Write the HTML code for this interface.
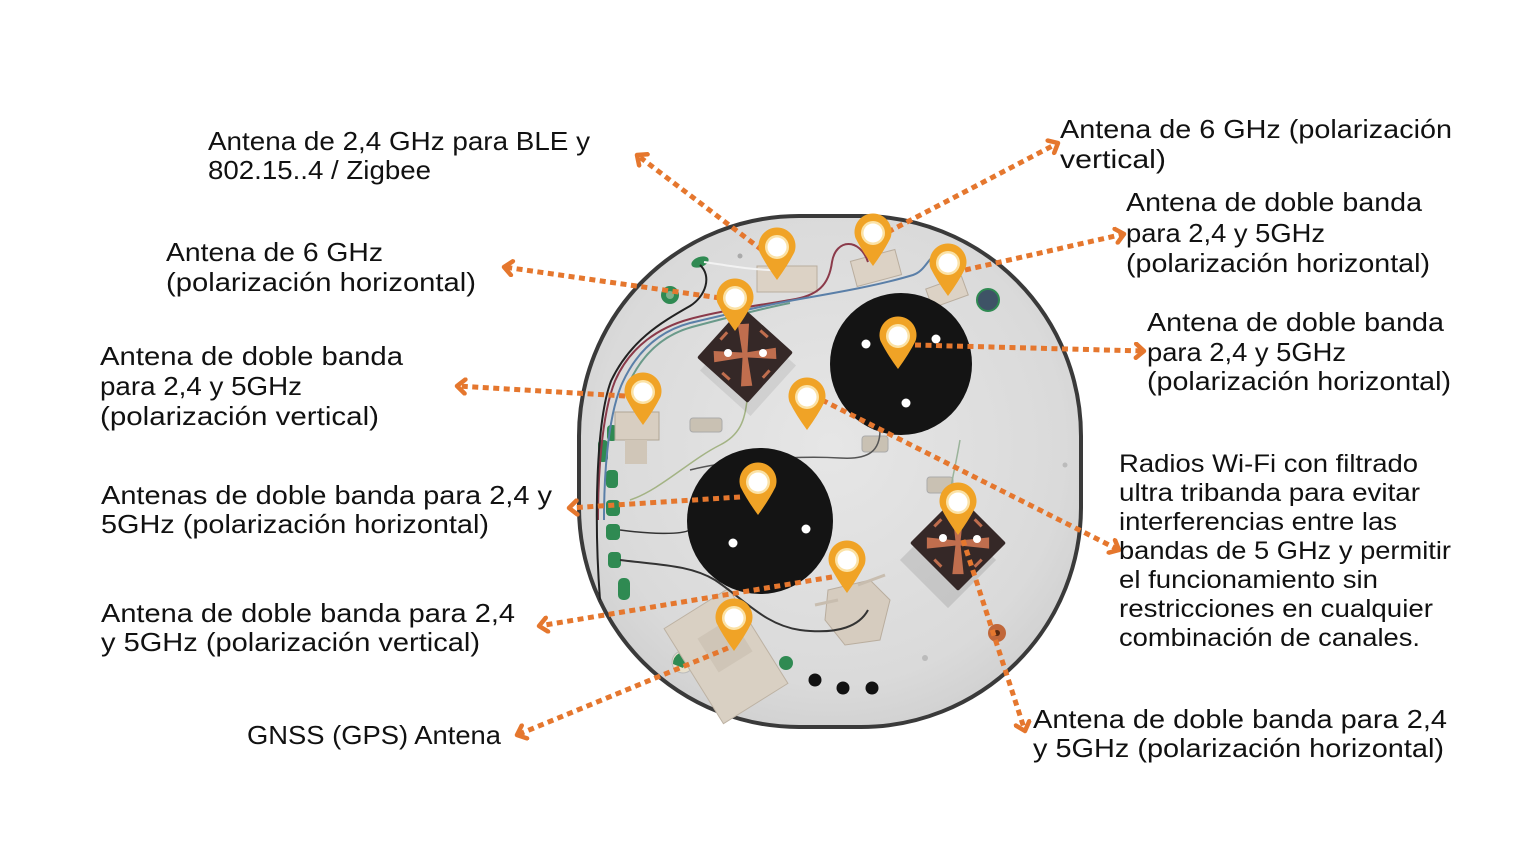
<!DOCTYPE html>
<html>
<head>
<meta charset="utf-8">
<style>
  html,body{margin:0;padding:0;background:#fff;}
  body{width:1533px;height:862px;overflow:hidden;}
  svg{display:block;}
  .t{font-family:"Liberation Sans","DejaVu Sans",sans-serif;font-size:26px;fill:#111;}
  .s{font-family:"Liberation Sans","DejaVu Sans",sans-serif;font-size:25px;fill:#111;}
  .dl{stroke:#e5772e;stroke-width:5;stroke-dasharray:6 4.5;fill:none;}
</style>
</head>
<body>
<svg width="1533" height="862" viewBox="0 0 1533 862" xmlns="http://www.w3.org/2000/svg">
  <defs>
    <radialGradient id="plate" cx="50%" cy="45%" r="62%">
      <stop offset="0%" stop-color="#e6e6e6"/>
      <stop offset="75%" stop-color="#dadada"/>
      <stop offset="100%" stop-color="#cdcdcd"/>
    </radialGradient>
    <marker id="ch" viewBox="0 0 14 18" refX="11" refY="9" markerWidth="14" markerHeight="18" markerUnits="userSpaceOnUse" orient="auto">
      <path d="M3,2 L11,9 L3,16" fill="none" stroke="#e5772e" stroke-width="4.5" stroke-linecap="round" stroke-linejoin="round"/>
    </marker>
    <g id="pin">
      <path d="M-17.5,5 A18.5,18.5 0 1 1 17.5,5 Q11,18 0,33 Q-11,18 -17.5,5Z" fill="#f0a326"/>
      <circle r="12" fill="#fbe2a6"/>
      <circle r="9.5" fill="#ffffff"/>
    </g>
    <g id="diam">
      <rect x="-34" y="-34" width="68" height="68" fill="#352827" rx="2"/>
      <path d="M0,-3 L26,18 L18,26 L-3,0Z" fill="#c06e4e"/>
      <path d="M0,3 L-26,-18 L-18,-26 L3,0Z" fill="#c06e4e"/>
      <path d="M3,0 L-18,26 L-26,18 L0,-3Z" fill="#c06e4e"/>
      <path d="M-3,0 L18,-26 L26,-18 L0,3Z" fill="#c06e4e"/>
      <rect x="-30" y="-5" width="3" height="10" fill="#c06e4e"/>
      <rect x="27" y="-5" width="3" height="10" fill="#c06e4e"/>
      <rect x="-5" y="-30" width="10" height="3" fill="#c06e4e"/>
      <rect x="-5" y="27" width="10" height="3" fill="#c06e4e"/>
    </g>
  </defs>

  <!-- device body -->
  <rect x="579" y="216" width="502" height="511" rx="220" ry="220" fill="url(#plate)" stroke="#3a3a3a" stroke-width="4"/>

  <!-- small components -->
  <circle cx="670" cy="295" r="9" fill="#2f8a52"/>
  <circle cx="670" cy="295" r="4" fill="#7fb08a"/>
  <ellipse cx="700" cy="262" rx="9" ry="5" fill="#2f8a52" transform="rotate(-20 700 262)"/>
  <circle cx="940" cy="268" r="8" fill="#2f8a52"/>
  <circle cx="988" cy="300" r="11" fill="#3e5366" stroke="#2f8a52" stroke-width="2"/>
  <circle cx="997" cy="633" r="9" fill="#c0673a"/>
  <circle cx="997" cy="633" r="3" fill="#5a2a10"/>
  <circle cx="683" cy="662" r="11" fill="#e8e0cc" stroke="#bbb" stroke-width="1"/>
  <path d="M673,664 A11,11 0 0 1 690,654 L683,668Z" fill="#2f8a52"/>
  <circle cx="786" cy="663" r="7" fill="#2f8a52"/>
  <circle cx="815" cy="680" r="6.5" fill="#111"/>
  <circle cx="843" cy="688" r="6.5" fill="#111"/>
  <circle cx="872" cy="688" r="6.5" fill="#111"/>
  <circle cx="925" cy="658" r="3" fill="#bbb"/>
  <circle cx="1065" cy="465" r="2.5" fill="#bbb"/>
  <circle cx="740" cy="256" r="2.5" fill="#aaa"/>
  <rect x="598" y="440" width="10" height="22" rx="4" fill="#2f8a52"/>
  <rect x="606" y="470" width="12" height="18" rx="4" fill="#2f8a52"/>
  <rect x="606" y="500" width="14" height="16" rx="4" fill="#2f8a52"/>
  <rect x="606" y="524" width="14" height="16" rx="4" fill="#2f8a52"/>
  <rect x="608" y="552" width="13" height="16" rx="4" fill="#2f8a52"/>
  <rect x="618" y="578" width="12" height="22" rx="5" fill="#2f8a52"/>
  <rect x="607" y="425" width="10" height="16" rx="4" fill="#2f8a52"/>

  <!-- beige antenna plates -->
  <rect x="757" y="266" width="60" height="26" fill="#dcd2c5" stroke="#b9ad9e" stroke-width="1"/>
  <rect x="853" y="255" width="46" height="26" fill="#dcd2c5" stroke="#b9ad9e" stroke-width="1" transform="rotate(-15 876 268)"/>
  <rect x="928" y="282" width="38" height="20" fill="#dcd2c5" stroke="#b9ad9e" stroke-width="1" transform="rotate(-20 947 292)"/>
  <rect x="615" y="412" width="44" height="28" fill="#d8cec1" stroke="#b0a595" stroke-width="1"/>
  <rect x="625" y="440" width="22" height="24" fill="#d0c6b8"/>
  <rect x="688" y="600" width="76" height="112" fill="#d9d0c3" stroke="#bdb2a3" stroke-width="1" transform="rotate(-32 726 656)"/>
  <rect x="705" y="625" width="40" height="40" fill="#cfc5b7" transform="rotate(-32 725 645)"/>
  <path d="M828,590 L870,580 L890,600 L880,640 L845,645 L825,620Z" fill="#d6ccbf" stroke="#b9ad9e" stroke-width="1"/>
  <path d="M815,605 L838,600 M858,585 L885,575" stroke="#c8bdaf" stroke-width="3"/>
  <rect x="690" y="418" width="32" height="14" rx="3" fill="#c9c1b3" stroke="#aaa"/>
  <rect x="703" y="494" width="20" height="26" rx="3" fill="#c9c1b3" stroke="#aaa"/>
  <rect x="862" y="436" width="26" height="16" rx="3" fill="#c9c1b3" stroke="#aaa"/>
  <rect x="927" y="477" width="26" height="16" rx="3" fill="#c9c1b3" stroke="#aaa"/>

  <!-- wires -->
  <path d="M868,262 C860,238 836,238 832,262 C829,285 818,296 790,300 C760,305 720,311 690,319 C660,327 630,346 615,381 C601,416 598,480 598,520" stroke="#8b3a4a" stroke-width="2" fill="none"/>
  <path d="M945,252 C928,252 928,270 913,275 C880,285 840,292 800,299 C760,306 720,316 690,323 C660,331 636,351 621,386 C607,421 604,480 604,520" stroke="#5a7fa8" stroke-width="2" fill="none"/>
  <path d="M790,303 C760,309 722,319 692,327 C663,335 640,355 626,390" stroke="#6a9a8a" stroke-width="2" fill="none"/>
  <path d="M700,265 C712,276 706,296 690,306 C660,323 630,341 611,381 C596,421 594,520 600,600" stroke="#222" stroke-width="2" fill="none"/>
  <path d="M704,262 C725,265 750,270 775,270" stroke="#f2f2f2" stroke-width="2" fill="none"/>
  <path d="M747,400 C745,420 740,435 720,445 C690,460 660,490 630,500" stroke="#a3b384" stroke-width="1.5" fill="none"/>
  <path d="M880,430 C880,450 870,460 840,458 C790,455 720,462 690,470" stroke="#555" stroke-width="1.5" fill="none"/>
  <path d="M960,440 C955,470 950,485 950,500" stroke="#9ab39a" stroke-width="1.5" fill="none"/>
  <path d="M620,560 C660,565 690,565 715,580 C745,600 765,625 800,630 C840,635 860,625 868,610" stroke="#333" stroke-width="2" fill="none"/>
  <path d="M620,530 C650,534 680,535 690,530" stroke="#333" stroke-width="1.5" fill="none"/>

  <!-- black disks -->
  <circle cx="901" cy="364" r="71" fill="#141414"/>
  <circle cx="866" cy="344" r="4.5" fill="#fff"/>
  <circle cx="936" cy="339" r="4.5" fill="#fff"/>
  <circle cx="906" cy="403" r="4.5" fill="#fff"/>
  <circle cx="760" cy="521" r="73" fill="#141414"/>
  <circle cx="806" cy="529" r="4.5" fill="#fff"/>
  <circle cx="733" cy="543" r="4.5" fill="#fff"/>

  <!-- diamonds -->
  <rect x="-34" y="-34" width="68" height="68" fill="#000" opacity="0.08" transform="translate(748,368) rotate(42)"/>
  <use href="#diam" transform="translate(745,355) rotate(42)"/>
  <circle cx="728" cy="353" r="4" fill="#fff"/>
  <circle cx="763" cy="353" r="4" fill="#fff"/>
  <rect x="-34" y="-34" width="68" height="68" fill="#000" opacity="0.1" transform="translate(948,560) rotate(45)"/>
  <use href="#diam" transform="translate(958,543) rotate(45)"/>
  <circle cx="943" cy="538" r="4" fill="#fff"/>
  <circle cx="977" cy="539" r="4" fill="#fff"/>

  <!-- dotted connectors -->
  <line class="dl" x1="762" y1="250" x2="637" y2="155" marker-end="url(#ch)"/>
  <line class="dl" x1="888" y1="232" x2="1058" y2="143" marker-end="url(#ch)"/>
  <line class="dl" x1="965" y1="270" x2="1124" y2="234" marker-end="url(#ch)"/>
  <line class="dl" x1="720" y1="298" x2="504" y2="267" marker-end="url(#ch)"/>
  <line class="dl" x1="915" y1="345" x2="1144" y2="351" marker-end="url(#ch)"/>
  <line class="dl" x1="625" y1="396" x2="457" y2="386" marker-end="url(#ch)"/>
  <line class="dl" x1="822" y1="400" x2="1119" y2="550" marker-end="url(#ch)"/>
  <line class="dl" x1="740" y1="497" x2="569" y2="508" marker-end="url(#ch)"/>
  <line class="dl" x1="963" y1="540" x2="1025" y2="731" marker-end="url(#ch)"/>
  <line class="dl" x1="832" y1="577" x2="539" y2="626" marker-end="url(#ch)"/>
  <line class="dl" x1="728" y1="648" x2="517" y2="735" marker-end="url(#ch)"/>

  <!-- pins -->
  <use href="#pin" x="777" y="247"/>
  <use href="#pin" x="873" y="233"/>
  <use href="#pin" x="948" y="263"/>
  <use href="#pin" x="735" y="298"/>
  <use href="#pin" x="898" y="336"/>
  <use href="#pin" x="643" y="392"/>
  <use href="#pin" x="807" y="397"/>
  <use href="#pin" x="758" y="482"/>
  <use href="#pin" x="958" y="502"/>
  <use href="#pin" x="847" y="560"/>
  <use href="#pin" x="734" y="618"/>

  <!-- labels -->
  <text class="t" x="208" y="150" textLength="382" lengthAdjust="spacingAndGlyphs">Antena de 2,4 GHz para BLE y</text>
  <text class="t" x="208" y="179" textLength="223" lengthAdjust="spacingAndGlyphs">802.15..4 / Zigbee</text>

  <text class="t" x="1060" y="138" textLength="392" lengthAdjust="spacingAndGlyphs">Antena de 6 GHz (polarización</text>
  <text class="t" x="1060" y="168" textLength="106" lengthAdjust="spacingAndGlyphs">vertical)</text>

  <text class="t" x="1126" y="211" textLength="296" lengthAdjust="spacingAndGlyphs">Antena de doble banda</text>
  <text class="t" x="1126" y="242" textLength="199" lengthAdjust="spacingAndGlyphs">para 2,4 y 5GHz</text>
  <text class="t" x="1126" y="272" textLength="304" lengthAdjust="spacingAndGlyphs">(polarización horizontal)</text>

  <text class="t" x="166" y="261" textLength="217" lengthAdjust="spacingAndGlyphs">Antena de 6 GHz</text>
  <text class="t" x="166" y="291" textLength="310" lengthAdjust="spacingAndGlyphs">(polarización horizontal)</text>

  <text class="t" x="1147" y="331" textLength="297" lengthAdjust="spacingAndGlyphs">Antena de doble banda</text>
  <text class="t" x="1147" y="361" textLength="199" lengthAdjust="spacingAndGlyphs">para 2,4 y 5GHz</text>
  <text class="t" x="1147" y="390" textLength="304" lengthAdjust="spacingAndGlyphs">(polarización horizontal)</text>

  <text class="t" x="100" y="365" textLength="303" lengthAdjust="spacingAndGlyphs">Antena de doble banda</text>
  <text class="t" x="100" y="395" textLength="202" lengthAdjust="spacingAndGlyphs">para 2,4 y 5GHz</text>
  <text class="t" x="100" y="425" textLength="279" lengthAdjust="spacingAndGlyphs">(polarización vertical)</text>

  <text class="t" x="101" y="504" textLength="451" lengthAdjust="spacingAndGlyphs">Antenas de doble banda para 2,4 y</text>
  <text class="t" x="101" y="533" textLength="388" lengthAdjust="spacingAndGlyphs">5GHz (polarización horizontal)</text>

  <text class="t" x="101" y="622" textLength="414" lengthAdjust="spacingAndGlyphs">Antena de doble banda para 2,4</text>
  <text class="t" x="101" y="651" textLength="379" lengthAdjust="spacingAndGlyphs">y 5GHz (polarización vertical)</text>

  <text class="t" x="247" y="744" textLength="254" lengthAdjust="spacingAndGlyphs">GNSS (GPS) Antena</text>

  <text class="s" x="1119" y="472" textLength="299" lengthAdjust="spacingAndGlyphs">Radios Wi-Fi con filtrado</text>
  <text class="s" x="1119" y="501" textLength="301" lengthAdjust="spacingAndGlyphs">ultra tribanda para evitar</text>
  <text class="s" x="1119" y="530" textLength="278" lengthAdjust="spacingAndGlyphs">interferencias entre las</text>
  <text class="s" x="1119" y="559" textLength="332" lengthAdjust="spacingAndGlyphs">bandas de 5 GHz y permitir</text>
  <text class="s" x="1119" y="588" textLength="259" lengthAdjust="spacingAndGlyphs">el funcionamiento sin</text>
  <text class="s" x="1119" y="617" textLength="314" lengthAdjust="spacingAndGlyphs">restricciones en cualquier</text>
  <text class="s" x="1119" y="646" textLength="301" lengthAdjust="spacingAndGlyphs">combinación de canales.</text>

  <text class="t" x="1033" y="728" textLength="414" lengthAdjust="spacingAndGlyphs">Antena de doble banda para 2,4</text>
  <text class="t" x="1033" y="757" textLength="411" lengthAdjust="spacingAndGlyphs">y 5GHz (polarización horizontal)</text>
</svg>
</body>
</html>
